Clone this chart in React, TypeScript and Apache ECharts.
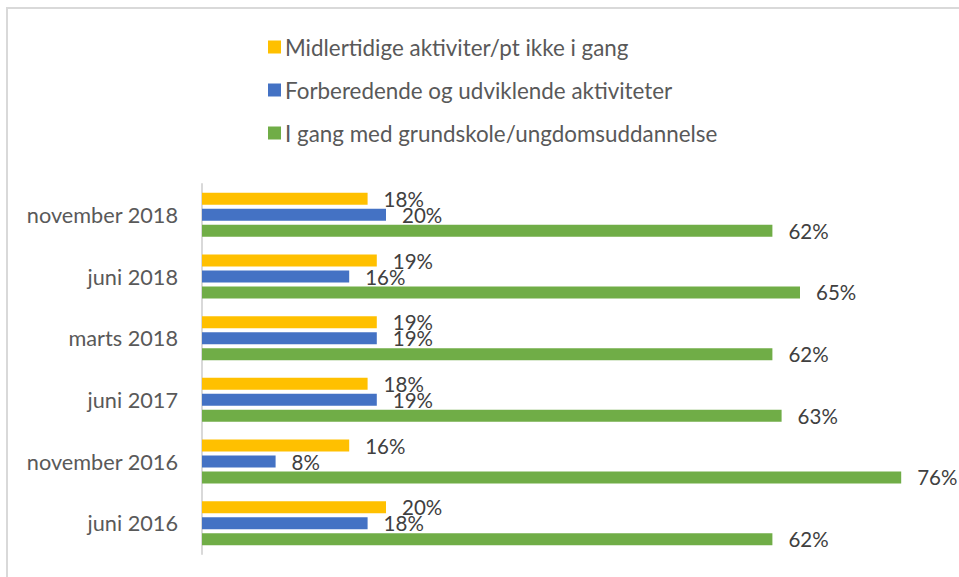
import React, { useEffect, useRef } from "react";
import * as echarts from "echarts";

const categories = ["juni 2016", "november 2016", "juni 2017", "marts 2018", "juni 2018", "november 2018"];
const seriesNames = [
  "Midlertidige aktiviter/pt ikke i gang",
  "Forberedende og udviklende aktiviteter",
  "I gang med grundskole/ungdomsuddannelse",
];
const midlertidige = [20, 16, 18, 19, 19, 18];
const forberedende = [18, 8, 19, 19, 16, 20];
const iGang = [62, 76, 63, 62, 65, 62];
const colors = ["#FFC000", "#4472C4", "#70AD47"];

export default function App() {
  const ref = useRef<HTMLDivElement>(null);
  useEffect(() => {
    if (!ref.current) return;
    const chart = echarts.init(ref.current, undefined, { renderer: "svg" });
    const font = "Lato, Carlito, 'Open Sans', sans-serif";
    const values = [midlertidige, forberedende, iGang];
    chart.setOption({
      animation: false,
      backgroundColor: "#ffffff",
      graphic: [
        {
          type: "rect",
          shape: { x: 7, y: 8, width: 1000, height: 620 },
          style: { fill: "none", stroke: "#d9d9d9", lineWidth: 2 },
          silent: true,
        },
      ],
      legend: {
        orient: "vertical",
        left: 263,
        top: 31,
        itemWidth: 13,
        itemHeight: 13,
        itemGap: 21,
        icon: "rect",
        data: seriesNames,
        textStyle: { fontFamily: font, fontSize: 22.4, color: "#595959", padding: [0, 0, 0, -1] },
      },
      grid: { left: 202, top: 184, width: 736, height: 370, containLabel: false },
      xAxis: {
        type: "value",
        min: 0,
        max: 80,
        show: false,
        splitLine: { show: false },
      },
      yAxis: {
        type: "category",
        data: categories,
        axisLine: { show: true, lineStyle: { color: "#d9d9d9", width: 2 } },
        axisTick: { show: false },
        axisLabel: { fontFamily: font, fontSize: 21.7, color: "#595959", margin: 24 },
      },
      series: seriesNames.map((name, i) => ({
        name,
        type: "bar",
        data: values[i],
        barWidth: 12,
        barGap: "33%",
        itemStyle: { color: colors[i] },
        label: {
          show: true,
          position: "right",
          distance: 16,
          formatter: "{c}%",
          fontFamily: font,
          fontSize: 20.5,
          color: "#404040",
        },
      })),
    });
    return () => chart.dispose();
  }, []);
  return (
    <div
      ref={ref}
      style={{ position: "absolute", left: 0, top: 0, width: 959, height: 577 }}
    />
  );
}
